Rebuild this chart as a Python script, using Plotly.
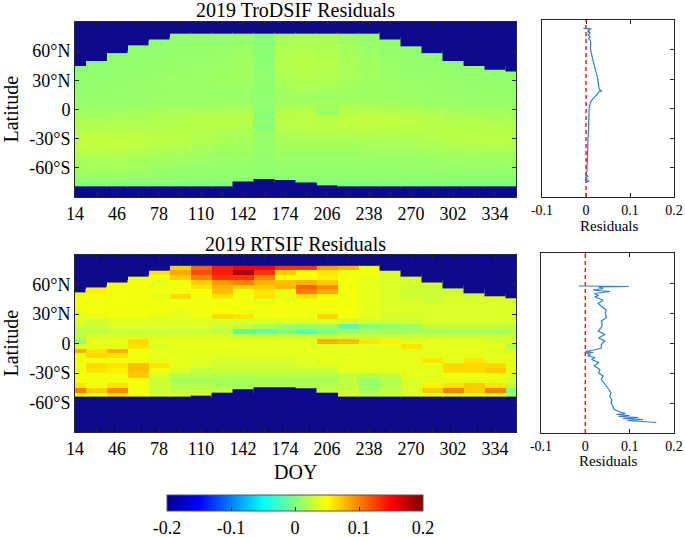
import plotly.graph_objects as go

# ---- data (residual maps are in units of 0.01, None = no data) ----
_ = None

doy = [14, 30, 46, 62, 78, 94, 110, 126, 142, 158, 174,
       190, 206, 222, 238, 254, 270, 286, 302, 318, 334, 350]
doy_ticks = [14, 46, 78, 110, 142, 174, 206, 238, 270, 302, 334]

lat_ticks = [60, 30, 0, -30, -60]
lat_labels = ['60°N', '30°N', '0', '-30°S', '-60°S']

lat_rows = [77.5, 72.5, 67.5, 62.5, 57.5, 52.5, 47.5, 42.5, 37.5, 32.5, 27.5,
            22.5, 17.5, 12.5, 7.5, 2.5, -2.5, -7.5, -12.5, -17.5, -22.5,
            -27.5, -32.5, -37.5, -42.5, -47.5, -52.5, -57.5, -62.5, -67.5,
            -72.5, -77.5]

# data coverage (northern / southern limit of each 16-day column)
tro_north = [45, 50, 58, 66, 72, 78, 78, 78, 78, 78, 78,
             78, 78, 78, 78, 72, 65, 58, 50, 45, 41, 39]
tro_south = [-79, -79, -79, -79, -79, -79, -79, -79, -74, -71.5, -72.5,
             -75, -78, -79, -79, -79, -79, -79, -79, -79, -79, -79]
rt_north = [52, 57, 62, 68, 74, 79, 79, 79, 79, 79, 79,
            79, 79, 79, 79, 74, 68, 62, 56, 51, 48, 46]
rt_south = [-54, -54, -54, -54, -54, -54, -53, -50, -46.5, -44.5, -44.5,
            -45.5, -50, -54, -54, -54, -54, -54, -54, -54, -54, -54]

tro_resid = [
    [_, _, _, _, _, 0.7, 0.7, 0.7, 0.8, 0.3, 1.3, 1.5, 1.5, 1.1, 0.8, _, _, _, _, _, _, _],
    [_, _, _, _, 0.6, 0.7, 0.7, 0.8, 0.9, 0.3, 1.5, 1.7, 1.6, 1.2, 0.9, 0.7, _, _, _, _, _, _],
    [_, _, _, 0.6, 0.7, 0.7, 0.8, 0.8, 0.9, 0.4, 1.7, 1.8, 1.7, 1.3, 0.9, 0.7, _, _, _, _, _, _],
    [_, _, _, 0.6, 0.7, 0.8, 0.8, 0.9, 1.0, 0.4, 1.8, 1.9, 1.8, 1.4, 1.0, 0.8, 0.7, _, _, _, _, _],
    [_, _, 0.6, 0.7, 0.7, 0.8, 0.9, 0.9, 1.0, 0.5, 1.9, 2.0, 1.9, 1.5, 1.1, 0.8, 0.7, 0.7, _, _, _, _],
    [_, _, 0.7, 0.7, 0.8, 0.9, 0.9, 1.0, 1.1, 0.5, 1.9, 2.1, 2.0, 1.6, 1.2, 0.9, 0.8, 0.7, _, _, _, _],
    [_, 0.6, 0.7, 0.7, 0.8, 0.9, 1.0, 1.0, 1.2, 0.5, 2.0, 2.1, 2.0, 1.7, 1.2, 0.9, 0.8, 0.7, 0.7, _, _, _],
    [0.6, 0.6, 0.7, 0.8, 0.9, 0.9, 1.0, 1.1, 1.2, 0.5, 2.0, 2.1, 2.0, 1.7, 1.3, 1.0, 0.9, 0.8, 0.7, 0.7, 0.7, _],
    [0.7, 0.7, 0.7, 0.8, 0.9, 1.0, 1.0, 1.1, 1.2, 0.6, 1.9, 2.0, 1.9, 1.7, 1.3, 1.0, 0.9, 0.9, 0.8, 0.7, 0.7, 0.7],
    [0.7, 0.7, 0.8, 0.8, 0.9, 1.0, 1.1, 1.1, 1.2, 0.6, 1.8, 1.9, 1.9, 1.6, 1.3, 1.1, 1.0, 0.9, 0.8, 0.8, 0.7, 0.7],
    [0.7, 0.8, 0.8, 0.9, 1.0, 1.0, 1.1, 1.1, 1.1, 0.6, 1.7, 1.8, 1.8, 1.5, 1.2, 1.1, 1.0, 0.9, 0.9, 0.8, 0.8, 0.7],
    [0.8, 0.8, 0.9, 0.9, 1.0, 1.0, 1.0, 1.1, 1.1, 0.6, 1.6, 1.7, 1.6, 1.4, 1.2, 1.1, 1.0, 1.0, 0.9, 0.9, 0.8, 0.8],
    [0.8, 0.8, 0.9, 0.9, 0.9, 1.0, 1.0, 1.0, 1.0, 0.6, 1.3, 1.4, 1.3, 1.2, 1.1, 1.1, 1.0, 1.0, 0.9, 0.9, 0.9, 0.8],
    [0.9, 0.9, 0.9, 0.9, 1.0, 1.0, 1.0, 1.0, 1.0, 0.6, 1.2, 1.2, 1.0, 1.2, 1.2, 1.1, 1.1, 1.0, 1.0, 0.9, 0.9, 0.9],
    [0.9, 0.9, 1.0, 1.0, 1.0, 1.1, 1.1, 1.1, 1.1, 0.7, 1.3, 1.3, 1.3, 1.4, 1.4, 1.3, 1.2, 1.1, 1.1, 1.0, 1.0, 0.9],
    [1.1, 1.1, 1.1, 1.2, 1.3, 1.4, 1.4, 1.5, 1.5, 0.7, 1.7, 1.8, 1.5, 1.8, 1.9, 1.7, 1.6, 1.4, 1.3, 1.2, 1.2, 1.1],
    [1.3, 1.3, 1.4, 1.4, 1.6, 1.7, 1.8, 1.9, 1.9, 0.5, 2.1, 2.2, 0.9, 2.2, 2.3, 2.2, 2.0, 1.8, 1.6, 1.5, 1.4, 1.3],
    [1.5, 1.5, 1.6, 1.6, 1.8, 1.9, 2.0, 2.1, 2.1, 0.0, 2.3, 2.3, 2.2, 2.4, 2.5, 2.4, 2.2, 2.0, 1.8, 1.7, 1.6, 1.5],
    [1.7, 1.7, 1.8, 1.8, 1.9, 2.0, 2.1, 2.2, 2.1, 0.7, 2.3, 2.3, 2.2, 2.5, 2.6, 2.5, 2.3, 2.1, 2.0, 1.9, 1.8, 1.7],
    [1.9, 1.9, 2.0, 2.0, 2.0, 2.1, 2.1, 2.1, 2.0, 0.1, 2.2, 2.2, 2.2, 2.4, 2.5, 2.4, 2.3, 2.2, 2.1, 2.0, 2.0, 1.9],
    [2.2, 2.2, 2.2, 2.2, 2.1, 2.1, 2.0, 1.9, 1.8, 0.8, 1.9, 2.0, 2.0, 2.1, 2.2, 2.1, 2.1, 2.1, 2.2, 2.2, 2.2, 2.1],
    [2.5, 2.5, 2.4, 2.4, 2.3, 2.2, 1.9, 1.7, 1.6, 0.9, 1.7, 1.7, 1.7, 1.8, 1.9, 1.9, 1.9, 2.0, 2.2, 2.3, 2.3, 2.2],
    [2.6, 2.6, 2.6, 2.5, 2.4, 2.2, 1.8, 1.6, 1.5, 1.0, 1.5, 1.5, 1.5, 1.6, 1.7, 1.7, 1.7, 1.8, 2.1, 2.2, 2.3, 2.2],
    [2.6, 2.5, 2.5, 2.4, 2.2, 2.0, 1.6, 1.4, 1.3, 1.0, 1.4, 1.4, 1.4, 1.4, 1.5, 1.5, 1.5, 1.6, 1.8, 1.9, 2.0, 1.9],
    [2.2, 2.2, 2.1, 2.0, 1.9, 1.7, 1.4, 1.2, 1.2, 0.9, 1.2, 1.2, 1.2, 1.2, 1.3, 1.3, 1.3, 1.4, 1.5, 1.6, 1.6, 1.6],
    [1.8, 1.8, 1.8, 1.7, 1.6, 1.4, 1.2, 1.1, 1.1, 0.8, 1.1, 1.1, 1.1, 1.1, 1.1, 1.1, 1.1, 1.2, 1.3, 1.3, 1.3, 1.3],
    [1.6, 1.6, 1.6, 1.5, 1.4, 1.2, 1.1, 1.0, 1.0, 0.7, 1.0, 1.0, 1.0, 1.0, 1.0, 1.0, 1.0, 1.0, 1.1, 1.1, 1.1, 1.1],
    [1.4, 1.5, 1.5, 1.4, 1.2, 1.0, 0.9, 0.9, 0.9, 0.7, 0.9, 0.9, 0.9, 0.9, 0.9, 0.9, 0.9, 0.9, 0.9, 1.0, 1.0, 0.9],
    [1.2, 1.3, 1.3, 1.2, 1.0, 0.9, 0.8, 0.8, 0.8, 0.6, 0.8, 0.8, 0.8, 0.8, 0.8, 0.8, 0.8, 0.8, 0.8, 0.8, 0.8, 0.8],
    [0.9, 1.0, 1.0, 0.9, 0.8, 0.7, 0.7, 0.7, 0.7, 0.5, 0.7, 0.7, 0.7, 0.7, 0.7, 0.7, 0.6, 0.6, 0.6, 0.6, 0.6, 0.6],
    [0.5, 0.5, 0.5, 0.5, 0.5, 0.5, 0.4, 0.4, 0.4, 0.3, 0.4, 0.4, 0.4, 0.4, 0.4, 0.4, 0.4, 0.4, 0.3, 0.3, 0.3, 0.3],
    [0.2, 0.2, 0.2, 0.2, 0.2, 0.2, 0.2, 0.2, _, _, _, _, 0.2, 0.2, 0.2, 0.2, 0.2, 0.2, 0.2, 0.2, 0.2, 0.2],
]

rt_resid = [
    [_, _, _, _, _, 7, 11, 14, 15, 15, 13, 13, 9, 8, 4.5, _, _, _, _, _, _, _],
    [_, _, _, _, 6, 8.5, 12, 14, 18, 13, 7, 5, 6, 4.5, 4.5, 3.5, _, _, _, _, _, _],
    [_, _, _, 4.5, 4.5, 7, 10, 13, 13, 10, 5, 4.5, 5.5, 4.5, 4, 3.5, 3.5, _, _, _, _, _],
    [_, _, 4.5, 4.5, 4, 4.5, 7, 9, 10, 8, 7.5, 8, 7, 4.5, 4, 3.5, 3.5, 3.5, _, _, _, _],
    [_, 5.5, 4.5, 4.5, 4.5, 4.5, 6, 8, 7, 7, 8, 11, 9.5, 4.5, 4, 3.5, 3, 3, 3, _, _, _],
    [4.5, 5.5, 4.5, 4.5, 4.5, 4.5, 5, 7.5, 4.5, 6, 4.5, 10, 8.5, 4.5, 4, 3.5, 3, 3, 3, 3, _, _],
    [4.5, 4.5, 4.5, 4.5, 4, 6.5, 4.5, 6, 4.5, 6, 4, 6, 5, 4.5, 4, 3.5, 3, 3, 3.5, 3, 3.5, 3.5],
    [4.5, 4.5, 4.5, 4.5, 4.5, 4.5, 4.5, 4.5, 4.5, 4, 4.5, 4.5, 4.5, 4.5, 4, 3.5, 3.5, 3, 3.5, 3.5, 3.5, 3.5],
    [4.5, 4.5, 4.5, 4.5, 4.5, 4.5, 4.5, 4.5, 4.5, 4.5, 4.5, 4.5, 4.5, 4.5, 4, 3.5, 3.5, 3.5, 3.5, 3.5, 3.5, 3.5],
    [4, 4.5, 4.5, 4.5, 4.5, 4, 4.5, 5, 4.5, 4.5, 4.5, 4.5, 4.5, 4.5, 4, 3.5, 3.5, 3.5, 3.5, 3.5, 3.5, 3.5],
    [4, 4, 4.5, 4.5, 4, 4, 4.5, 6.5, 6, 4.5, 4.5, 4.5, 6.5, 4.5, 4, 3.5, 3.5, 3.5, 3.5, 3.5, 3.5, 3.5],
    [3.5, 3, 3.5, 3.5, 3.5, 3.5, 3.5, 3.5, 3.5, 3.5, 3.5, 3.5, 3.5, 3, 3, 3, 3, 3.5, 3.5, 3.5, 3.5, 3.5],
    [3, 3, 3.5, 3.5, 3.5, 3.5, 3.5, 3, 2.5, 1.5, 1, 0.5, 1, -1.5, 0, 0.5, 1, 2.5, 2.5, 2.5, 2.5, 2.5],
    [2.5, 2.5, 3, 3, 3, 3, 3, 2.5, -1.5, -1, 0, -1.5, 0, 1, 1.5, 1.5, 1.5, 1.5, 1.5, 1.5, 1.5, 2],
    [2.5, 3.5, 3.5, 3.5, 3.5, 3.5, 3.5, 3.5, 3, 3, 3, 3, 3, 3, 3, 3, 3, 3, 3, 3, 3, 3],
    [1, 4, 4, 6.5, 4, 4, 4, 4, 4, 4, 4, 4, 8, 7.5, 6, 5.5, 4, 4, 4, 4, 3.5, 3.5],
    [3.5, 4, 4, 6, 3.5, 4, 4, 4, 4, 4, 4, 4, 4, 4, 4, 4, 6, 4, 4, 4, 4, 2],
    [8, 6, 8, 4.5, 4, 4, 4, 4, 4, 4, 4, 4, 4, 4, 4, 4, 4, 4, 4, 4, 3.5, 3.5],
    [4.5, 6.5, 6, 4.5, 4, 4, 4, 3.5, 3.5, 3.5, 3.5, 4, 4, 4, 4, 4, 4, 4, 4, 4, 4, 4],
    [4.5, 4.5, 4.5, 4.5, 4, 4, 3.5, 3.5, 3.5, 3.5, 3.5, 3.5, 4, 4, 4, 4, 4, 6, 4, 6, 4, 4],
    [4.5, 6.5, 6, 7.5, 6, 4, 3.5, 3, 3, 3, 3, 3.5, 3.5, 4, 4, 4, 4, 4, 6.5, 6.5, 6.5, 4],
    [4.5, 6, 5.5, 7.5, 4.5, 3.5, 2.5, 3, 3, 3, 3, 3, 3, 4, 4, 4, 4, 4, 6.5, 6.5, 7, 4],
    [4.5, 4.5, 4.5, 7, 3.5, 2, 2, 2, 2, 2, 2, 2, 2, 2.5, 2, 2.5, 4, 4, 4.5, 4.5, 4.5, 3.5],
    [4.5, 4.5, 4.5, 4.5, 3, 1.5, 1.5, 1.5, 1.5, 1.5, 1.5, 1.5, 1.5, 2.5, 1, 2, 3.5, 4, 4, 4, 4, 3.5],
    [6, 4.5, 6, 4.5, 3, 2, 2, 1.5, 1.5, 2, 2, 2, 2, 2.5, 1, 2, 3.5, 5.5, 6, 7, 6, 2.5],
    [10, 7, 9.5, 4.5, 3, 2.5, 2.5, 2.5, 1.5, _, _, 1.5, 2.5, 3, 1.5, 2.5, 3.5, 7, 10, 7, 10, 0],
    [4.5, 4.5, 6, 4.5, 3.5, 3.5, 3.5, _, _, _, _, _, _, 3.5, 2.5, 2.5, 3.5, 4, 4.5, 4, 4, 1.5],
]

# zonal mean residual profiles (right-hand panels)
tro_prof_lat = [81.5, 81, 80, 79, 78, 77, 75, 73, 71, 69, 66, 62, 58, 54, 50,
                46, 42, 38, 34, 30, 26, 22, 19, 18, 17.5, 15, 12, 9, 6, 3, 0,
                -5, -10, -15, -20, -25, -30, -35, -40, -45, -50, -55, -60,
                -64, -67, -69, -70, -71, -72, -73, -74, -75]
tro_prof_val = [-0.006, 0.012, 0.004, 0.008, 0.003, 0.01, 0.005, 0.009, 0.006,
                0.01, 0.011, 0.01, 0.011, 0.013, 0.015, 0.017, 0.02, 0.022,
                0.025, 0.027, 0.028, 0.029, 0.031, 0.036, 0.03, 0.027, 0.02,
                0.014, 0.01, 0.008, 0.007, 0.007, 0.006, 0.006, 0.006, 0.005,
                0.005, 0.004, 0.004, 0.004, 0.003, 0.003, 0.002, 0.002, 0.0,
                0.004, -0.002, 0.003, -0.001, 0.005, 0.007, 0.001]

rt_prof_lat = [57, 56.5, 56, 54.5, 53, 51.5, 49.5, 47.5, 46, 43, 39.5, 36, 33,
               29, 25.5, 22, 18.5, 15.5, 12, 8.5, 5, 2, -1.5, -5, -7, -8.5,
               -9.5, -10, -11.5, -13, -14.5, -16.5, -19.5, -23, -26.5, -30,
               -33, -36.5, -40, -43.5, -47, -50, -53.5, -57, -60, -63, -66,
               -68.5, -70.5, -71.5, -72.5, -73.5, -74.5, -75.5, -76.5, -77.5,
               -78.5, -79.5]
rt_prof_val = [-0.015, 0.098, 0.03, 0.04, 0.017, 0.056, 0.02, 0.03, 0.021,
               0.04, 0.029, 0.04, 0.047, 0.045, 0.048, 0.036, 0.038, 0.036,
               0.029, 0.044, 0.03, 0.044, 0.036, 0.036, 0.02, 0.0, 0.018,
               -0.001, 0.012, 0.005, 0.022, 0.014, 0.03, 0.02, 0.033, 0.03,
               0.04, 0.036, 0.042, 0.05, 0.054, 0.058, 0.055, 0.06, 0.058,
               0.062, 0.064, 0.075, 0.09, 0.07, 0.1, 0.075, 0.12, 0.085, 0.13,
               0.095, 0.14, 0.16]

resid_ticks = [-0.1, 0, 0.1, 0.2]
resid_labels = ['-0.1', '0', '0.1', '0.2']
cbar_ticks = [-0.2, -0.1, 0, 0.1, 0.2]
cbar_labels = ['-0.2', '-0.1', '0', '0.1', '0.2']

# ---- styling ----
W, H = 685, 537
FONT = 'Liberation Serif, Times New Roman, serif'
NAVY = 'rgb(14,10,140)'
AX = '#262626'
jet = [[0.0, 'rgb(0,0,143)'], [0.125, 'rgb(0,0,255)'], [0.375, 'rgb(0,255,255)'],
       [0.625, 'rgb(255,255,0)'], [0.875, 'rgb(255,0,0)'], [1.0, 'rgb(128,0,0)']]


def px(x0, x1):
    return [x0 / W, x1 / W]


def py(y_top, y_bot):
    return [1 - y_bot / H, 1 - y_top / H]


def scale(grid):
    return [[None if v is None else v / 100 for v in row] for row in grid]


fig = go.Figure()


def add_map(z, north, south, xa, ya, show_scale):
    fig.add_trace(go.Heatmap(
        x=doy, y=lat_rows[:len(z)], z=scale(z), colorscale=jet,
        zmin=-0.2, zmax=0.2, zsmooth=False, showscale=show_scale,
        xaxis=xa, yaxis=ya, hoverongaps=False,
        colorbar=dict(orientation='h', x=295 / W, xanchor='center',
                      y=1 - 495 / H, yanchor='top', len=256 / W,
                      lenmode='fraction', thickness=16, xpad=0, ypad=0,
                      tickvals=cbar_ticks, ticktext=cbar_labels,
                      tickfont=dict(family=FONT, size=18, color='black'),
                      ticks='inside', ticklen=4, tickcolor=AX,
                      outlinewidth=1, outlinecolor='#555555')))
    # no-data area above / below the coverage of each column
    fig.add_trace(go.Bar(x=doy, y=[90 - n for n in north], base=north, width=16,
                         marker=dict(color=NAVY, line=dict(width=0)),
                         xaxis=xa, yaxis=ya, hoverinfo='skip'))
    fig.add_trace(go.Bar(x=doy, y=[s + 90 for s in south], base=-90, width=16,
                         marker=dict(color=NAVY, line=dict(width=0)),
                         xaxis=xa, yaxis=ya, hoverinfo='skip'))


add_map(tro_resid, tro_north, tro_south, 'x', 'y', False)
add_map(rt_resid, rt_north, rt_south, 'x2', 'y2', True)

fig.add_trace(go.Scatter(x=tro_prof_val, y=tro_prof_lat, mode='lines',
                         line=dict(color='#2f7fc8', width=1.2),
                         xaxis='x3', yaxis='y3'))
fig.add_trace(go.Scatter(x=rt_prof_val, y=rt_prof_lat, mode='lines',
                         line=dict(color='#2f7fc8', width=1.2),
                         xaxis='x4', yaxis='y4'))

shapes = []
for xa, ya in [('x3', 'y3'), ('x4', 'y4')]:
    shapes.append(dict(type='rect', xref=xa + ' domain', yref=ya + ' domain',
                       x0=0, x1=1, y0=0, y1=1, fillcolor='white',
                       line=dict(width=0), layer='below'))
    shapes.append(dict(type='line', xref=xa, yref=ya + ' domain', x0=0, x1=0,
                       y0=0, y1=1, line=dict(color='rgb(240,30,30)', width=1.5,
                                             dash='4px,3px')))

tick_font = dict(family=FONT, size=18, color='black')
small_font = dict(family=FONT, size=14, color='black')


def map_x(anchor, dom):
    return dict(domain=dom, anchor=anchor, range=[14, 350], tickvals=doy_ticks,
                ticks='inside', ticklen=4, tickcolor=AX, showline=True,
                linecolor=AX, linewidth=1, mirror='ticks', showgrid=False,
                zeroline=False, tickfont=tick_font, automargin=False,
                minor=dict(ticks='inside', dtick=16, tick0=14, ticklen=4,
                           tickcolor=AX, showgrid=False))


def map_y(anchor, dom):
    return dict(domain=dom, anchor=anchor, range=[-90, 90], tickvals=lat_ticks,
                ticktext=lat_labels, ticks='inside', ticklen=4, tickcolor=AX,
                showline=True, linecolor=AX, linewidth=1, mirror='ticks',
                showgrid=False, zeroline=False, tickfont=tick_font,
                automargin=False)


def prof_x(anchor, dom):
    return dict(domain=dom, anchor=anchor, range=[-0.1, 0.2], tickvals=resid_ticks,
                ticktext=resid_labels, ticks='inside', ticklen=4, tickcolor=AX,
                showline=True, linecolor=AX, linewidth=1, mirror='ticks',
                showgrid=False, zeroline=False, tickfont=small_font,
                automargin=False)


def prof_y(anchor, dom):
    return dict(domain=dom, anchor=anchor, range=[-90, 90], tickvals=lat_ticks,
                showticklabels=False, side='right', ticks='inside', ticklen=4,
                tickcolor=AX, showline=True, linecolor=AX, linewidth=1,
                mirror=True, showgrid=False, zeroline=False, automargin=False)


def label(text, x, y, size, angle=0):
    return dict(text=text, x=x / W, y=1 - y / H, xref='paper', yref='paper',
                showarrow=False, textangle=angle, xanchor='center',
                yanchor='middle', font=dict(family=FONT, size=size, color='black'))


fig.update_layout(
    width=W, height=H,
    margin=dict(l=0, r=0, t=0, b=0, autoexpand=False),
    paper_bgcolor='white', plot_bgcolor=NAVY, showlegend=False,
    barmode='overlay', font=dict(family=FONT, color='black'),
    xaxis=map_x('y', px(75, 516)), yaxis=map_y('x', py(22, 197)),
    xaxis2=map_x('y2', px(75, 516)), yaxis2=map_y('x2', py(255, 432)),
    xaxis3=prof_x('y3', px(542, 674)), yaxis3=prof_y('x3', py(20, 197)),
    xaxis4=prof_x('y4', px(541, 674)), yaxis4=prof_y('x4', py(253, 433)),
    shapes=shapes,
    annotations=[
        label('2019 TroDSIF Residuals', 295.5, 10.5, 20),
        label('2019 RTSIF Residuals', 295.5, 243.5, 20),
        label('Latitude', 10, 109.5, 20, -90),
        label('Latitude', 10, 343.5, 20, -90),
        label('DOY', 295.5, 471.5, 20),
        label('Residuals', 608.5, 226, 15),
        label('Residuals', 608, 461, 15),
    ],
)

# the page body has a default 8px margin; drop it so the figure sits at 0,0
fig.write_html('out.html', config={'displayModeBar': False},
               post_script="document.body.style.margin='0';")
